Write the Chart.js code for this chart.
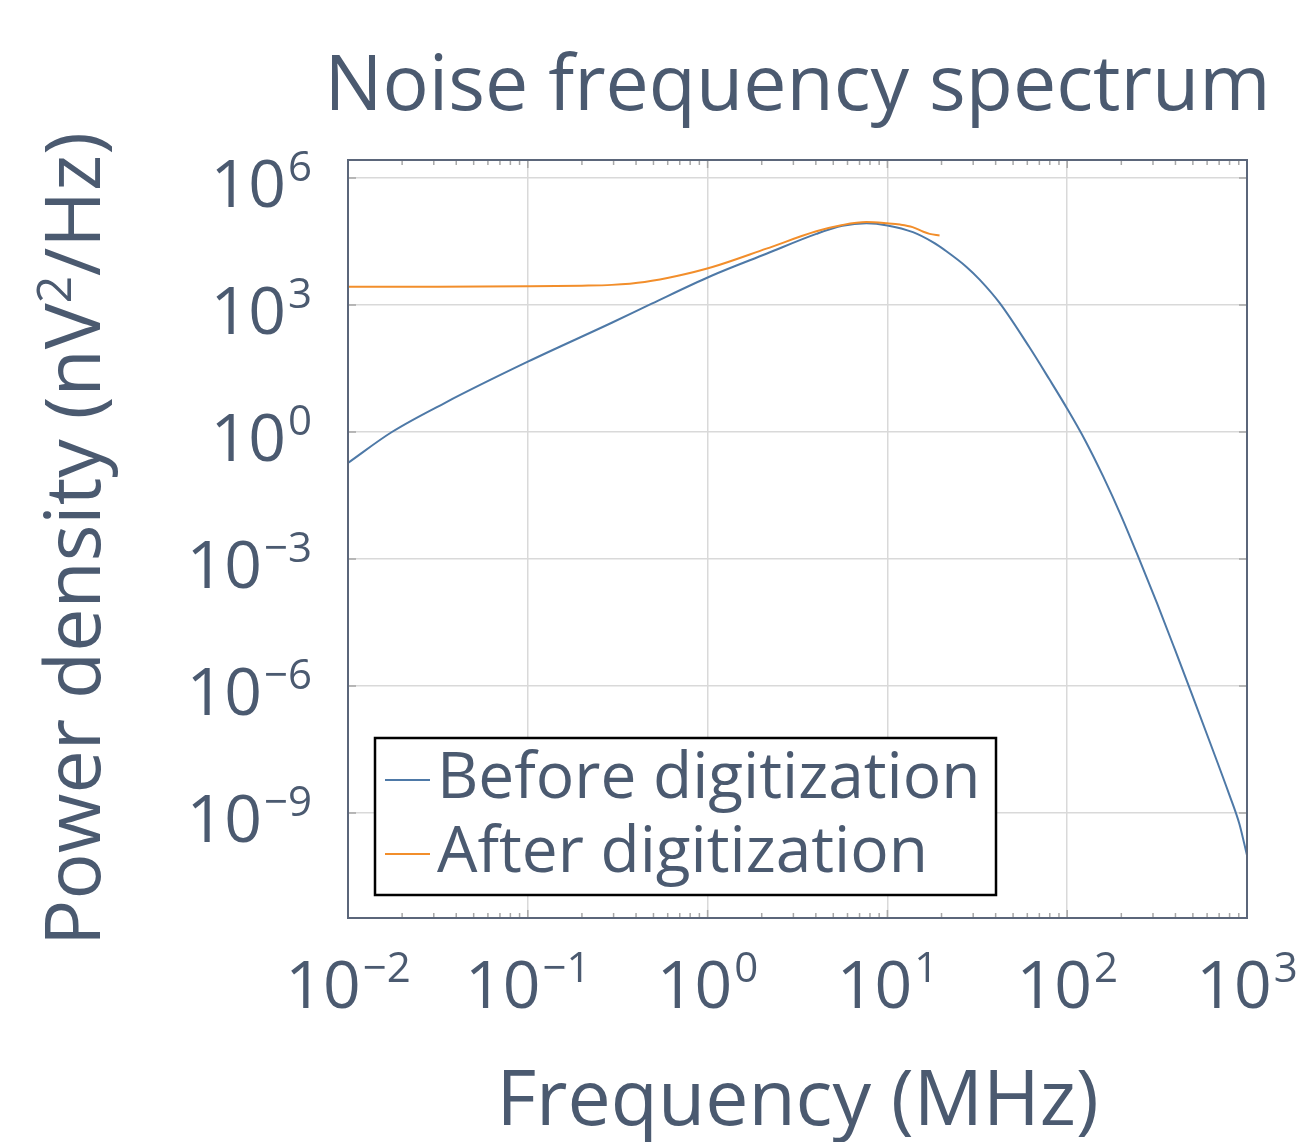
<!DOCTYPE html>
<html>
<head>
<meta charset="utf-8">
<script src="https://cdn.jsdelivr.net/npm/chart.js@4.4.1/dist/chart.umd.min.js"></script>
<style>
  html, body { margin: 0; padding: 0; background: #ffffff; }
  canvas { display: block; }
</style>
</head>
<body>
<canvas id="spectrum" width="1298" height="1142"></canvas>
<script>
// values (frequency in MHz, density in nV^2/Hz)
const frequencyBefore = [0.01, 0.01754, 0.03467, 0.1, 0.2931, 0.4887, 1.052, 2.123, 4.027, 5.623, 7.638, 10, 13.87, 17.78, 21.28, 27.54, 32.58, 42.07, 61.66, 79.43, 100, 125.9, 158.5, 199.5, 251.2, 316.2, 398.1, 501.2, 631.0, 794.3, 905.7, 966.1, 1000];
const powerBefore = [0.1862, 1, 4.898, 45.71, 380.2, 1072, 4898, 16220, 47860, 74130, 85110, 75860, 52480, 30900, 18620, 7943, 3981, 1122, 100, 17.78, 3.548, 0.631, 0.0891, 0.01047, 1e-3, 8.91e-5, 7.08e-6, 5.37e-7, 3.98e-8, 2.82e-9, 5.62e-10, 1.86e-10, 1e-10];

const frequencyAfter = [0.01, 0.03162, 0.1, 0.1995, 0.2931, 0.4467, 0.6839, 1.052, 2.123, 4.027, 5.623, 7.638, 10, 11.75, 13.80, 15.85, 17.18, 19.50];
const powerAfter = [2692, 2692, 2754, 2851, 2985, 3508, 4898, 7762, 21380, 54950, 77620, 91200, 85110, 79430, 69180, 53700, 47860, 43650];

const seriesLabels = ['Before digitization', 'After digitization'];
const seriesColors = ['#4e79a7', '#f28e2b'];

const xTicks = [0.01, 0.1, 1, 10, 100, 1000];
const xTickExp = ['\u22122', '\u22121', '0', '1', '2', '3'];
const yTicks = [1e6, 1e3, 1, 1e-3, 1e-6, 1e-9];
const yTickExp = ['6', '3', '0', '\u22123', '\u22126', '\u22129'];

const TEXT = '#4b5a70';
const FRAME = '#5b667a';
const FONT = '"Open Sans", "Noto Sans", sans-serif';

function toPoints(xs, ys) {
    return xs.map((x, i) => ({ x: x, y: ys[i] }));
}

function drawPower(ctx, x, y, exp, align) {
    ctx.font = '66px ' + FONT;
    const wb = ctx.measureText('10').width;
    ctx.font = '42px ' + FONT;
    const we = ctx.measureText(exp).width;
    const total = wb + we + 2;
    let start = align === 'right' ? x - total : x - total / 2;
    ctx.textAlign = 'left';
    ctx.textBaseline = 'alphabetic';
    ctx.font = '66px ' + FONT;
    ctx.fillText('10', start, y);
    ctx.font = '42px ' + FONT;
    ctx.fillText(exp, start + wb + 2, y - 26);
}

const decorations = {
    id: 'decorations',
    afterDraw(chart) {
        const ctx = chart.ctx;
        const area = chart.chartArea;
        const xs = chart.scales.x;
        const ys = chart.scales.y;
        ctx.save();

        // minor ticks along top and bottom
        ctx.strokeStyle = '#a8a8a8';
        ctx.lineWidth = 1.5;
        ctx.beginPath();
        for (let d = -2; d < 3; d++) {
            for (let k = 2; k < 10; k++) {
                const px = xs.getPixelForValue(k * Math.pow(10, d));
                ctx.moveTo(px, area.bottom);
                ctx.lineTo(px, area.bottom - 5);
                ctx.moveTo(px, area.top);
                ctx.lineTo(px, area.top + 5);
            }
        }
        // major ticks
        xTicks.forEach(v => {
            const px = xs.getPixelForValue(v);
            ctx.moveTo(px, area.bottom);
            ctx.lineTo(px, area.bottom - 8);
            ctx.moveTo(px, area.top);
            ctx.lineTo(px, area.top + 8);
        });
        yTicks.forEach(v => {
            const py = ys.getPixelForValue(v);
            ctx.moveTo(area.left, py);
            ctx.lineTo(area.left + 8, py);
            ctx.moveTo(area.right, py);
            ctx.lineTo(area.right - 8, py);
        });
        ctx.stroke();

        // frame
        ctx.strokeStyle = FRAME;
        ctx.lineWidth = 2;
        ctx.strokeRect(area.left, area.top, area.right - area.left, area.bottom - area.top);

        // legend
        ctx.fillStyle = '#ffffff';
        ctx.fillRect(375, 738, 621, 157);
        ctx.strokeStyle = '#000000';
        ctx.lineWidth = 2.5;
        ctx.strokeRect(375, 738, 621, 157);
        const rows = [780, 854];
        seriesLabels.forEach((label, i) => {
            ctx.strokeStyle = seriesColors[i];
            ctx.lineWidth = 2;
            ctx.beginPath();
            ctx.moveTo(385, rows[i]);
            ctx.lineTo(430, rows[i]);
            ctx.stroke();
            ctx.fillStyle = TEXT;
            ctx.font = '64px ' + FONT;
            ctx.textAlign = 'left';
            ctx.textBaseline = 'alphabetic';
            ctx.fillText(label, 437, rows[i] + 18);
        });

        // tick labels
        ctx.fillStyle = TEXT;
        xTicks.forEach((v, i) => {
            drawPower(ctx, xs.getPixelForValue(v), 1008, xTickExp[i], 'center');
        });
        yTicks.forEach((v, i) => {
            drawPower(ctx, 312, ys.getPixelForValue(v) + 29, yTickExp[i], 'right');
        });

        // title
        const cx = (area.left + area.right) / 2;
        const cy = (area.top + area.bottom) / 2;
        ctx.textAlign = 'center';
        ctx.textBaseline = 'alphabetic';
        ctx.font = '77px ' + FONT;
        ctx.fillText('Noise frequency spectrum', cx, 110);

        // x title
        ctx.font = '77px ' + FONT;
        ctx.fillText('Frequency (MHz)', cx, 1125);

        // y title, drawn in pieces for the superscript
        ctx.save();
        ctx.translate(100, cy);
        ctx.rotate(-Math.PI / 2);
        const p1 = 'Power density (nV', p2 = '2', p3 = '/Hz)';
        ctx.font = '77px ' + FONT;
        const w1 = ctx.measureText(p1).width;
        const w3 = ctx.measureText(p3).width;
        ctx.font = '48px ' + FONT;
        const w2 = ctx.measureText(p2).width;
        let sx = -(w1 + w2 + w3) / 2;
        ctx.textAlign = 'left';
        ctx.font = '77px ' + FONT;
        ctx.fillText(p1, sx, 0);
        ctx.font = '48px ' + FONT;
        ctx.fillText(p2, sx + w1, -29);
        ctx.font = '77px ' + FONT;
        ctx.fillText(p3, sx + w1 + w2, 0);
        ctx.restore();

        ctx.restore();
    }
};

new Chart(document.getElementById('spectrum'), {
    type: 'scatter',
    data: {
        datasets: [
            {
                label: seriesLabels[0],
                data: toPoints(frequencyBefore, powerBefore),
                borderColor: seriesColors[0],
                borderWidth: 2,
                showLine: true,
                pointRadius: 0,
                cubicInterpolationMode: 'monotone',
                order: 1
            },
            {
                label: seriesLabels[1],
                data: toPoints(frequencyAfter, powerAfter),
                borderColor: seriesColors[1],
                borderWidth: 2,
                showLine: true,
                pointRadius: 0,
                cubicInterpolationMode: 'monotone',
                order: 0
            }
        ]
    },
    options: {
        responsive: false,
        animation: false,
        layout: { padding: { left: 348, right: 51, top: 160, bottom: 224 } },
        plugins: {
            legend: { display: false },
            title: { display: false },
            tooltip: { enabled: false }
        },
        scales: {
            x: {
                type: 'logarithmic',
                min: 0.01,
                max: 1000,
                afterBuildTicks: s => { s.ticks = xTicks.map(v => ({ value: v })); },
                afterFit: s => { s.height = 0; },
                ticks: { display: false },
                border: { display: false },
                grid: { color: '#d9d9d9', lineWidth: 1.5, drawTicks: false }
            },
            y: {
                type: 'logarithmic',
                min: 3.3e-12,
                max: 2.66e6,
                afterBuildTicks: s => { s.ticks = yTicks.map(v => ({ value: v })); },
                afterFit: s => { s.width = 0; },
                ticks: { display: false },
                border: { display: false },
                grid: { color: '#d9d9d9', lineWidth: 1.5, drawTicks: false }
            }
        }
    },
    plugins: [decorations]
});
</script>
</body>
</html>
